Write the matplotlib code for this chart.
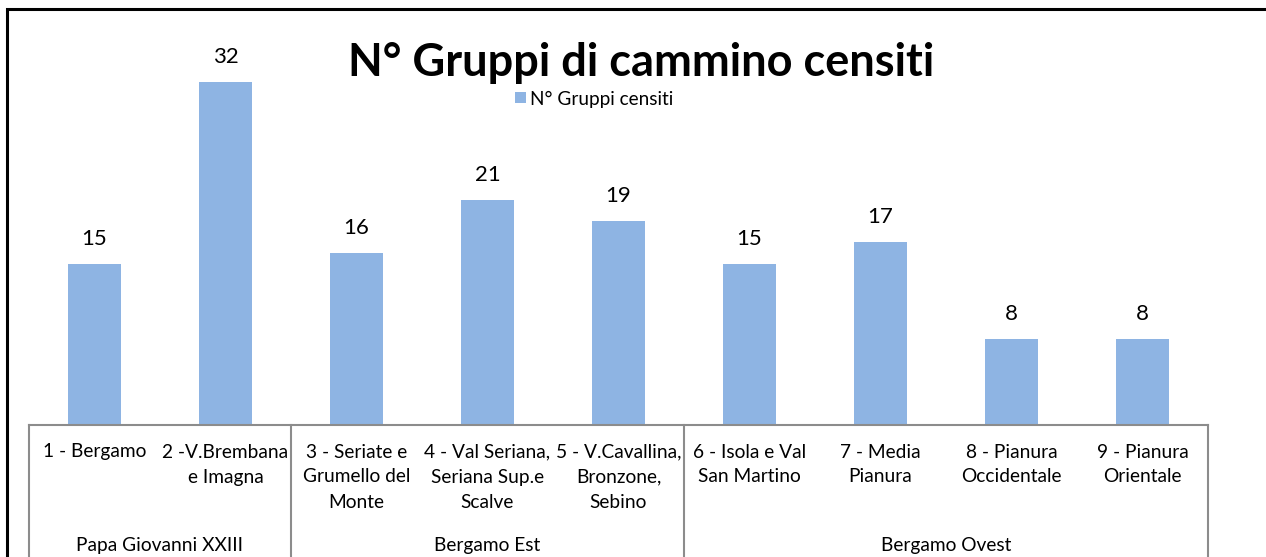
import matplotlib
matplotlib.use("Agg")
import matplotlib.pyplot as plt
from matplotlib.patches import Rectangle
from matplotlib.lines import Line2D
import matplotlib.transforms as mtransforms

categories = [
    "1 - Bergamo",
    "2 -V.Brembana\ne Imagna",
    "3 - Seriate e\nGrumello del\nMonte",
    "4 - Val Seriana,\nSeriana Sup.e\nScalve",
    "5 - V.Cavallina,\nBronzone,\nSebino",
    "6 - Isola e Val\nSan Martino",
    "7 - Media\nPianura",
    "8 - Pianura\nOccidentale",
    "9 - Pianura\nOrientale",
]
values = [15, 32, 16, 21, 19, 15, 17, 8, 8]
groups = ["Papa Giovanni XXIII", "Bergamo Est", "Bergamo Ovest"]
group_sizes = [2, 3, 4]
title = "N° Gruppi di cammino censiti"
series_name = "N° Gruppi censiti"

W, H = 1266, 557
plt.rcParams['font.family'] = ['Lato', 'DejaVu Sans']
fig = plt.figure(figsize=(W / 100, H / 100), dpi=100)

def fx(px):
    return px / W

def fy(py):
    return 1 - py / H

ax_left, ax_right, ax_bottom, ax_top = 29, 1208, 424, 50
ax = fig.add_axes([fx(ax_left), fy(ax_bottom), fx(ax_right - ax_left), (ax_bottom - ax_top) / H])
bar_color = "#8EB4E3"
x = list(range(len(categories)))
ax.bar(x, values, width=0.40, color=bar_color, zorder=2)
ax.set_xlim(-0.5, len(categories) - 0.5)
ax.set_ylim(0, 35)
for s in ax.spines.values():
    s.set_visible(False)
ax.set_xticks([])
ax.set_yticks([])
ax.patch.set_alpha(0)

for xi, v in zip(x, values):
    ax.annotate(str(v), (xi, v), xytext=(0, 15), textcoords="offset pixels",
                ha="center", va="bottom", fontsize=16, color="black")

# category table
tgrey = "#8C8C8C"
trans = mtransforms.blended_transform_factory(ax.transData, fig.transFigure)
ax.add_line(Line2D([-0.5, len(categories) - 0.5], [fy(424.5), fy(424.5)], transform=trans,
                   color=tgrey, lw=1.5, clip_on=False))
bounds = [-0.5]
for g in group_sizes:
    bounds.append(bounds[-1] + g)
for b in bounds:
    ax.add_line(Line2D([b, b], [fy(424.5), fy(560)], transform=trans,
                       color=tgrey, lw=1.5, clip_on=False))

line_y = [452, 477, 502]
for xi, lab in zip(x, categories):
    for li, part in enumerate(lab.split("\n")):
        ax.text(xi, fy(line_y[li]), part, transform=trans, ha="center", va="center",
                fontsize=13.8, color="black")

for gi, g in enumerate(groups):
    cx = (bounds[gi] + bounds[gi + 1]) / 2
    ax.text(cx, fy(545), g, transform=trans, ha="center", va="center",
            fontsize=13.8, color="black")

# title and legend
fig.text(fx(641), fy(63), title, ha="center", va="center", fontsize=32.5,
         fontweight="bold", color="black")
fig.patches.append(Rectangle((fx(515), fy(103)), fx(11), 11 / H, transform=fig.transFigure,
                             facecolor=bar_color, edgecolor="none"))
fig.text(fx(530), fy(99), series_name, ha="left", va="center", fontsize=13.7, color="black")

# outer border
fig.patches.append(Rectangle((fx(7), fy(700)), fx(2000), (700 - 9) / H, transform=fig.transFigure,
                             facecolor="none", edgecolor="black", lw=2.2))

fig.savefig("out.png", dpi=100)
